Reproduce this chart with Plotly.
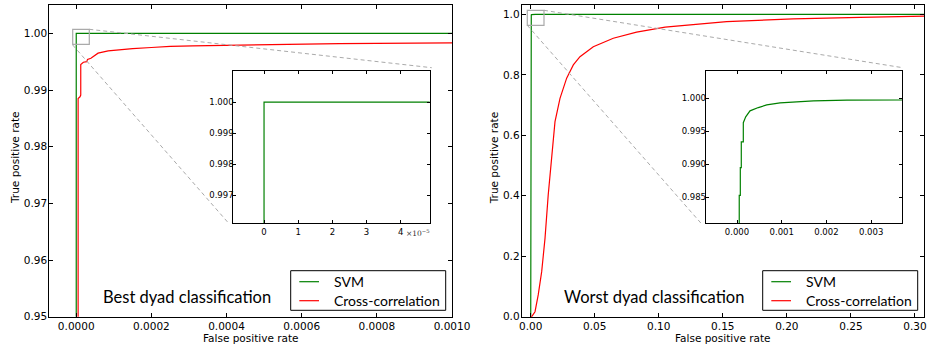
import plotly.graph_objects as go

W, H = 927, 348

# ---------------- data ----------------
# Best dyad (left panel)
best_svm_fpr = [0.0, 0.0, 0.001]
best_svm_tpr = [0.0, 1.0, 1.0]
best_cc_fpr = [5e-6, 5e-6, 1.0e-5, 1.2e-5, 1.2e-5, 1.9e-5, 2.8e-5, 3.0e-5, 3.9e-5,
               5.2e-5, 5.8e-5, 8.5e-5, 1.12e-4, 1.5e-4, 2.0e-4, 2.5e-4, 3.1e-4,
               4.2e-4, 5.0e-4, 7.0e-4, 1.0e-3]
best_cc_tpr = [0.0, 0.9885, 0.9888, 0.9891, 0.9945, 0.9949, 0.9950, 0.9954, 0.9956,
               0.9962, 0.9965, 0.9969, 0.9971, 0.9973, 0.9975, 0.9977, 0.9978,
               0.9979, 0.9981, 0.9982, 0.9983]

# Worst dyad (right panel)
worst_svm_fpr = [0.00005, 0.00005, 0.000074, 0.000074, 0.000096, 0.000096, 0.000141,
                 0.000141, 0.000195, 0.000291, 0.000477, 0.000665, 0.000963, 0.00171,
                 0.00246, 0.00369, 0.01, 0.05, 0.31]
worst_svm_tpr = [0.0, 0.9853, 0.9853, 0.9895, 0.9895, 0.9934, 0.9934, 0.9963,
                 0.9972, 0.9981, 0.9986, 0.9990, 0.9993, 0.9996, 0.99974, 0.99985,
                 0.99995, 1.0, 1.0]
worst_cc_fpr = [0.0, 0.0008, 0.0034, 0.0059, 0.0086, 0.0112, 0.0137, 0.0164, 0.019,
                0.0229, 0.0281, 0.0333, 0.0385, 0.0489, 0.0645, 0.0827, 0.105, 0.153,
                0.205, 0.257, 0.31]
worst_cc_tpr = [0.0, 0.0, 0.0165, 0.072, 0.149, 0.259, 0.403, 0.535, 0.645, 0.722,
                0.789, 0.833, 0.860, 0.893, 0.921, 0.941, 0.958, 0.976, 0.985, 0.990,
                0.9945]

inset_best_xticks = [0, 1e-5, 2e-5, 3e-5, 4e-5]
inset_best_xticktext = ["0", "1", "2", "3", "4"]
inset_best_yticks = [0.997, 0.998, 0.999, 1.000]

series_names = ["SVM", "Cross-correlation"]
panel_titles = ["Best dyad classification", "Worst dyad classification"]
x_title = "False positive rate"
y_title = "True positive rate"

GREEN = "#008000"
RED = "#ff0000"
series_colors = [GREEN, RED]

def px_x(p):
    return p / W

def px_y(p):
    return 1 - p / H

fig = go.Figure()

# main traces
fig.add_trace(go.Scatter(x=best_svm_fpr, y=best_svm_tpr, mode="lines", name=series_names[0],
                         line=dict(color=GREEN, width=1.2), xaxis="x", yaxis="y"))
fig.add_trace(go.Scatter(x=best_cc_fpr, y=best_cc_tpr, mode="lines", name=series_names[1],
                         line=dict(color=RED, width=1.2), xaxis="x", yaxis="y"))
fig.add_trace(go.Scatter(x=worst_svm_fpr, y=worst_svm_tpr, mode="lines", name=series_names[0],
                         line=dict(color=GREEN, width=1.2), xaxis="x2", yaxis="y2"))
fig.add_trace(go.Scatter(x=worst_cc_fpr, y=worst_cc_tpr, mode="lines", name=series_names[1],
                         line=dict(color=RED, width=1.2), xaxis="x2", yaxis="y2"))
# insets
fig.add_trace(go.Scatter(x=best_svm_fpr, y=best_svm_tpr, mode="lines", name=series_names[0],
                         line=dict(color=GREEN, width=1.2), xaxis="x3", yaxis="y3"))
fig.add_trace(go.Scatter(x=worst_svm_fpr, y=worst_svm_tpr, mode="lines", name=series_names[0],
                         line=dict(color=GREEN, width=1.2), xaxis="x4", yaxis="y4"))

tick_font = dict(family="DejaVu Sans", size=10.5, color="black")
inset_font = dict(family="DejaVu Sans", size=8.5, color="black")

def ax(domain, rng, font, **kw):
    d = dict(domain=domain, range=rng, showline=True, linecolor="black", linewidth=1,
             mirror="ticks", ticks="inside", ticklen=4, tickcolor="black", tickwidth=1,
             showgrid=False, zeroline=False, tickfont=font, automargin=False)
    d.update(kw)
    return d

main_y_dom = [px_y(316.7), px_y(5)]
inset_y_dom = [px_y(223.3), px_y(71)]
title_font = dict(family="DejaVu Sans", size=10.5, color="black")
legend_font = dict(family="Lato", size=14, color="black")

fig.update_layout(
    width=W, height=H, margin=dict(l=0, r=0, t=0, b=0, pad=0),
    paper_bgcolor="white", plot_bgcolor="white", showlegend=False,
    xaxis=ax([px_x(49.3), px_x(452)], [-0.0000717, 0.001], tick_font, anchor="y",
             dtick=0.0002, tick0=0, tickformat=".4f"),
    yaxis=ax(main_y_dom, [0.95, 1.005], tick_font, anchor="x", dtick=0.01, tick0=0.95,
             tickformat=".2f", ticklabelstandoff=-1),
    xaxis2=ax([px_x(521.7), px_x(924.3)], [-0.007, 0.3073], tick_font, anchor="y2",
              dtick=0.05, tick0=0, tickformat=".2f"),
    yaxis2=ax(main_y_dom, [0, 1.031], tick_font, anchor="x2", dtick=0.2, tick0=0,
              tickformat=".1f", ticklabelstandoff=-1),
    xaxis3=ax([px_x(233.3), px_x(429.7)], [-0.9e-5, 4.85e-5], inset_font, anchor="y3",
              tickvals=inset_best_xticks, ticktext=inset_best_xticktext, ticklen=3),
    yaxis3=ax(inset_y_dom, [0.9961, 1.001], inset_font, anchor="x3",
              tickvals=inset_best_yticks, tickformat=".3f", ticklen=3,
              ticklabelstandoff=-3),
    xaxis4=ax([px_x(705.7), px_x(902)], [-0.0007, 0.00369], inset_font, anchor="y4",
              dtick=0.001, tick0=0, tickformat=".3f", ticklen=3),
    yaxis4=ax(inset_y_dom, [0.98106, 1.00414], inset_font, anchor="x4", dtick=0.005,
              tick0=0.985, tickformat=".3f", ticklen=3, ticklabelstandoff=-3),
)

# zoom rectangles and connector lines (pixel positions)
gray = "#aaaaaa"
shapes = []
for (x0, y0, x1, y1) in [(72.7, 29.3, 89.3, 44.3), (527.3, 10.3, 544, 25.3)]:
    shapes.append(dict(type="rect", xref="paper", yref="paper", x0=px_x(x0), x1=px_x(x1),
                       y0=px_y(y1), y1=px_y(y0), line=dict(color=gray, width=1.2)))
for (x0, y0, x1, y1) in [(89.3, 29.3, 431.7, 67.7), (72.7, 45.0, 229.3, 224),
                         (544, 10.3, 902.7, 67.7), (527.3, 25.3, 701.7, 224)]:
    shapes.append(dict(type="line", xref="paper", yref="paper", x0=px_x(x0), y0=px_y(y0),
                       x1=px_x(x1), y1=px_y(y1), line=dict(color=gray, width=1, dash="4px,3px")))

def note(text, x, y, font, angle=0, xanchor="center"):
    return dict(text=text, x=px_x(x), y=px_y(y), xref="paper", yref="paper",
                xanchor=xanchor, yanchor="middle", showarrow=False, font=font,
                textangle=angle)

ann_font = dict(family="Lato", size=16.5, color="black")
annotations = [
    note(panel_titles[0], 187, 296.7, ann_font),
    note(panel_titles[1], 654, 296.7, ann_font),
    note(x_title, 251, 337.7, title_font),
    note(x_title, 723, 337.7, title_font),
    note(y_title, 15, 158, title_font, -90),
    note(y_title, 494.3, 158, title_font, -90),
    note("×10<sup>−5</sup>", 418, 233, dict(family="DejaVu Serif", size=7.5, color="#333333")),
]

# legend boxes (matplotlib style), one per panel
for left in [290.7, 762.7]:
    shapes.append(dict(type="rect", xref="paper", yref="paper", x0=px_x(left),
                       x1=px_x(left + 155), y0=px_y(310.3), y1=px_y(270.7),
                       line=dict(color="black", width=1), fillcolor="white", layer="above"))
    for i, (name, col) in enumerate(zip(series_names, series_colors)):
        yy = 281.7 + 19 * i
        shapes.append(dict(type="line", xref="paper", yref="paper",
                           x0=px_x(left + 8.6), x1=px_x(left + 28.3),
                           y0=px_y(yy), y1=px_y(yy), line=dict(color=col, width=1.2),
                           layer="above"))
        annotations.append(note(name, left + 41.5, yy, legend_font, xanchor="left"))

fig.update_layout(shapes=shapes, annotations=annotations)

fig.write_html("out.html", config={"displayModeBar": False},
               post_script="document.body.style.margin='0';document.body.style.padding='0';")
